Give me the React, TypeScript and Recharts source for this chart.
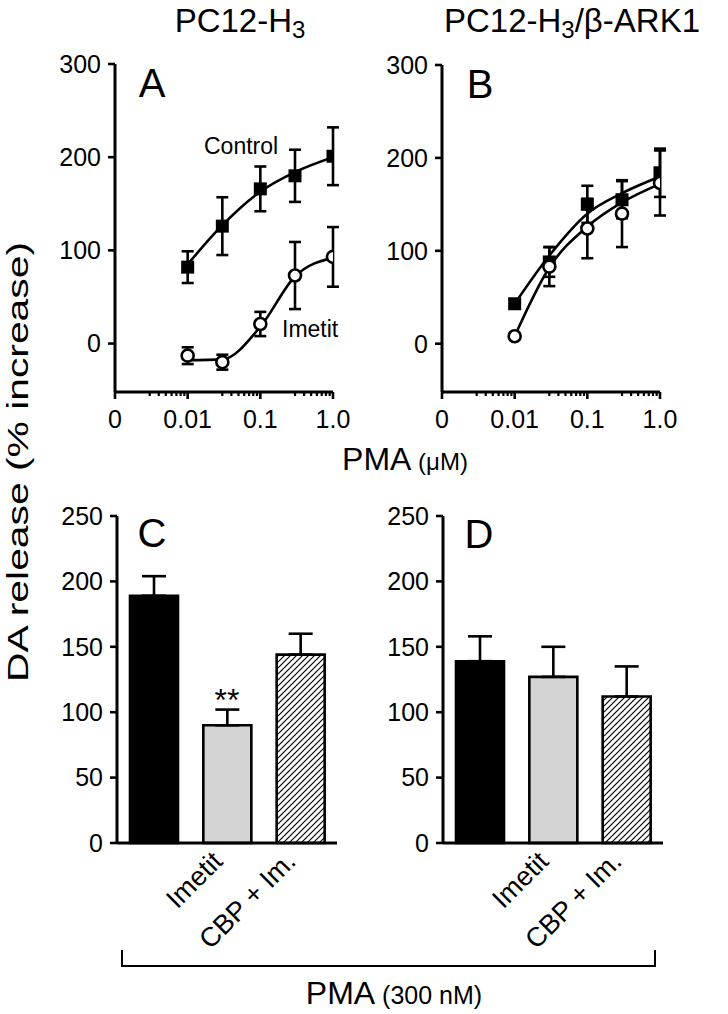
import React from 'react';
import { ComposedChart, Line, XAxis, YAxis, ErrorBar, BarChart, Bar, Cell } from 'recharts';

const FONT = '"Liberation Sans", Arial, Helvetica, sans-serif';

// ---- Dose-response data (PMA, µM) ----
const pmaDoses = [0.01, 0.03, 0.1, 0.3, 1.0];

const aControl = [82, 126, 166, 180, 201];
const aControlErr = [17, 31, 24, 28, 31];
const aControlFit = [85, 127, 163, 184, 200];
const aImetit = [-13, -20, 21, 73, 93];
const aImetitErr = [9, 8, 13, 36, 32];
const aImetitFit = [-18, -17, 18, 72, 92];

const bControl = [43, 88, 150, 155, 184];
const bControlErr = [4, 16, 20, 20, 26];
const bControlFit = [43, 95, 140, 162, 180];
const bImetit = [8, 83, 124, 140, 173];
const bImetitErr = [3, 21, 32, 36, 35];
const bImetitFit = [8, 82, 126, 152, 172];

const logMajorTicks = [0.001, 0.01, 0.1, 1];
const logMajorLabels = ['0', '0.01', '0.1', '1.0'];
const logMinorTicks = [
  0.003, 0.004, 0.005, 0.006, 0.007, 0.008, 0.009,
  0.03, 0.04, 0.05, 0.06, 0.07, 0.08, 0.09,
  0.3, 0.4, 0.5, 0.6, 0.7, 0.8, 0.9,
];
const curveYTicks = [0, 100, 200, 300];

// ---- Bar data (PMA 300 nM) ----
const barKeys = ['ctrl', 'imetit', 'cbp'];
const barTickLabels = ['', 'Imetit', 'CBP + Im.'];
const barFills = ['#000000', '#d4d4d4', 'url(#hatch)'];
const cValues = [189, 90, 144];
const cErr = [15, 12, 16];
const dValues = [139, 127, 112];
const dErr = [19, 23, 23];
const barYTicks = [0, 50, 100, 150, 200, 250];

const Square = (p: any) => {
  const { cx, cy, index } = p;
  if (cx == null || cy == null) return <g key={`sq-${index}`} />;
  return <rect key={`sq-${index}`} x={cx - 6.5} y={cy - 6.5} width={13} height={13} fill="#000" />;
};

const OpenCircle = (p: any) => {
  const { cx, cy, index } = p;
  if (cx == null || cy == null) return <g key={`ci-${index}`} />;
  return <circle key={`ci-${index}`} cx={cx} cy={cy} r={6} fill="#fff" stroke="#000" strokeWidth={2.6} />;
};

const LogTick = (props: any) => {
  const { x, y, payload } = props;
  const v = payload.value;
  const idx = logMajorTicks.indexOf(v);
  if (idx >= 0) {
    return (
      <g>
        <line x1={x} x2={x} y1={y} y2={y + 7} stroke="#000" strokeWidth={2.6} />
        <text x={x} y={y + 36} textAnchor="middle" fontSize={25} fontFamily={FONT} fill="#000">
          {logMajorLabels[idx]}
        </text>
      </g>
    );
  }
  return <line x1={x} x2={x} y1={y} y2={y + 4} stroke="#000" strokeWidth={2.2} />;
};

const CatTick = (props: any) => {
  const { x, y, payload } = props;
  const idx = barKeys.indexOf(payload.value);
  const label = idx >= 0 ? barTickLabels[idx] : '';
  if (!label) return <g />;
  const ax = x - 3;
  const ay = y + 20;
  return (
    <text
      x={ax}
      y={ay}
      textAnchor="end"
      fontSize={27}
      fontFamily={FONT}
      fill="#000"
      transform={`rotate(-45, ${ax}, ${ay})`}
    >
      {label}
    </text>
  );
};

const yTickStyle = { fontSize: 25, fill: '#000', fontFamily: FONT };

function CurvePanel(props: any) {
  const { left, top, width, height, margin, control, controlErr, controlFit, imetit, imetitErr, imetitFit } = props;
  const data = pmaDoses.map((d, i) => ({
    dose: d,
    ctrl: control[i],
    ctrlErr: controlErr[i],
    ctrlFit: controlFit[i],
    imet: imetit[i],
    imetErr: imetitErr[i],
    imetFit: imetitFit[i],
  }));
  return (
    <div style={{ position: 'absolute', left, top }}>
      <ComposedChart width={width} height={height} data={data} margin={margin}>
        <XAxis
          dataKey="dose"
          type="number"
          scale="log"
          domain={[0.001, 1]}
          allowDataOverflow
          ticks={[...logMajorTicks, ...logMinorTicks]}
          interval={0}
          tick={(p: any) => <LogTick {...p} />}
          tickLine={false}
          tickSize={0}
          tickMargin={0}
          axisLine={{ stroke: '#000', strokeWidth: 3 }}
          height={40}
        />
        <YAxis
          type="number"
          domain={[-52, 300]}
          allowDataOverflow
          ticks={curveYTicks}
          interval={0}
          tick={yTickStyle}
          tickSize={7}
          tickMargin={7}
          tickLine={{ stroke: '#000', strokeWidth: 2.6 }}
          axisLine={{ stroke: '#000', strokeWidth: 3 }}
          width={60}
        />
        <Line dataKey="ctrlFit" type="monotone" stroke="#000" strokeWidth={2.6} dot={false} activeDot={false} isAnimationActive={false} />
        <Line dataKey="imetFit" type="monotone" stroke="#000" strokeWidth={2.6} dot={false} activeDot={false} isAnimationActive={false} />
        <Line dataKey="ctrl" stroke="none" dot={Square} activeDot={false} isAnimationActive={false}>
          <ErrorBar dataKey="ctrlErr" width={6} strokeWidth={2.6} stroke="#000" direction="y" />
        </Line>
        <Line dataKey="imet" stroke="none" dot={OpenCircle} activeDot={false} isAnimationActive={false}>
          <ErrorBar dataKey="imetErr" width={6} strokeWidth={2.6} stroke="#000" direction="y" />
        </Line>
      </ComposedChart>
    </div>
  );
}

function BarPanel(props: any) {
  const { left, top, width, height, margin, values, errs } = props;
  const data = barKeys.map((k, i) => ({ key: k, value: values[i], err: [0, errs[i]] }));
  return (
    <div style={{ position: 'absolute', left, top }}>
      <BarChart width={width} height={height} data={data} margin={margin}>
        <XAxis
          dataKey="key"
          interval={0}
          tick={(p: any) => <CatTick {...p} />}
          tickLine={false}
          tickSize={0}
          tickMargin={0}
          axisLine={{ stroke: '#000', strokeWidth: 3 }}
          height={120}
        />
        <YAxis
          type="number"
          domain={[0, 250]}
          ticks={barYTicks}
          interval={0}
          tick={yTickStyle}
          tickSize={7}
          tickMargin={7}
          tickLine={{ stroke: '#000', strokeWidth: 2.6 }}
          axisLine={{ stroke: '#000', strokeWidth: 3 }}
          width={60}
        />
        <Bar dataKey="value" barSize={48} stroke="#000" strokeWidth={2.6} isAnimationActive={false}>
          {values.map((_: number, i: number) => (
            <Cell key={`cell-${i}`} fill={barFills[i]} />
          ))}
          <ErrorBar dataKey="err" width={12} strokeWidth={2.6} stroke="#000" direction="y" />
        </Bar>
      </BarChart>
    </div>
  );
}

export default function App() {
  const t = { fontFamily: FONT, fill: '#000' } as any;
  return (
    <div style={{ position: 'absolute', left: 0, top: 0, width: 728, height: 1014, background: '#fff', overflow: 'hidden' }}>
      <svg width={0} height={0} style={{ position: 'absolute' }}>
        <defs>
          <pattern id="hatch" patternUnits="userSpaceOnUse" width={6} height={6}>
            <rect width={6} height={6} fill="#fff" />
            <path d="M0,6 L6,0 M-1.5,1.5 L1.5,-1.5 M4.5,7.5 L7.5,4.5" stroke="#000" strokeWidth={1.2} />
          </pattern>
        </defs>
      </svg>

      <CurvePanel
        left={30}
        top={40}
        width={330}
        height={400}
        margin={{ top: 24, right: 27, bottom: 8, left: 25 }}
        control={aControl}
        controlErr={aControlErr}
        controlFit={aControlFit}
        imetit={aImetit}
        imetitErr={aImetitErr}
        imetitFit={aImetitFit}
      />
      <CurvePanel
        left={370}
        top={40}
        width={330}
        height={400}
        margin={{ top: 25, right: 40, bottom: 8, left: 12 }}
        control={bControl}
        controlErr={bControlErr}
        controlFit={bControlFit}
        imetit={bImetit}
        imetitErr={bImetitErr}
        imetitFit={bImetitFit}
      />
      <BarPanel
        left={30}
        top={490}
        width={330}
        height={490}
        margin={{ top: 26, right: 23, bottom: 17, left: 27 }}
        values={cValues}
        errs={cErr}
      />
      <BarPanel
        left={370}
        top={490}
        width={330}
        height={490}
        margin={{ top: 26, right: 37, bottom: 17, left: 13 }}
        values={dValues}
        errs={dErr}
      />

      <svg width={728} height={1014} style={{ position: 'absolute', left: 0, top: 0, pointerEvents: 'none' }}>
        {/* titles */}
        <text x={240} y={32} textAnchor="middle" fontSize={33} {...t}>
          PC12-H<tspan fontSize={24} dy={6}>3</tspan>
        </text>
        <text x={572} y={32} textAnchor="middle" fontSize={33} {...t}>
          PC12-H<tspan fontSize={24} dy={6}>3</tspan>
          <tspan dy={-6}>/β-ARK1</tspan>
        </text>

        {/* y-axis label */}
        <text
          x={28}
          y={462}
          textAnchor="middle"
          fontSize={30}
          textLength={440}
          lengthAdjust="spacingAndGlyphs"
          transform="rotate(-90, 28, 462)"
          {...t}
        >
          DA release (% increase)
        </text>

        {/* x-axis label for curves */}
        <text x={405} y={470} textAnchor="middle" fontSize={32} {...t}>
          PMA<tspan fontSize={24}> (μM)</tspan>
        </text>

        {/* panel letters */}
        <text x={152} y={97} textAnchor="middle" fontSize={40} {...t}>A</text>
        <text x={480} y={98} textAnchor="middle" fontSize={40} {...t}>B</text>
        <text x={152} y={547} textAnchor="middle" fontSize={40} {...t}>C</text>
        <text x={479} y={548} textAnchor="middle" fontSize={40} {...t}>D</text>

        {/* curve annotations */}
        <text x={204} y={154} fontSize={23} {...t}>Control</text>
        <text x={282} y={337} fontSize={23} {...t}>Imetit</text>

        {/* significance */}
        <text x={227} y={711} textAnchor="middle" fontSize={32} {...t}>**</text>

        {/* bracket + label */}
        <path d="M122,950 V966 H655 V950" fill="none" stroke="#000" strokeWidth={2} />
        <text x={394} y={1004} textAnchor="middle" fontSize={32} {...t}>
          PMA<tspan fontSize={25}> (300 nM)</tspan>
        </text>
      </svg>
    </div>
  );
}
